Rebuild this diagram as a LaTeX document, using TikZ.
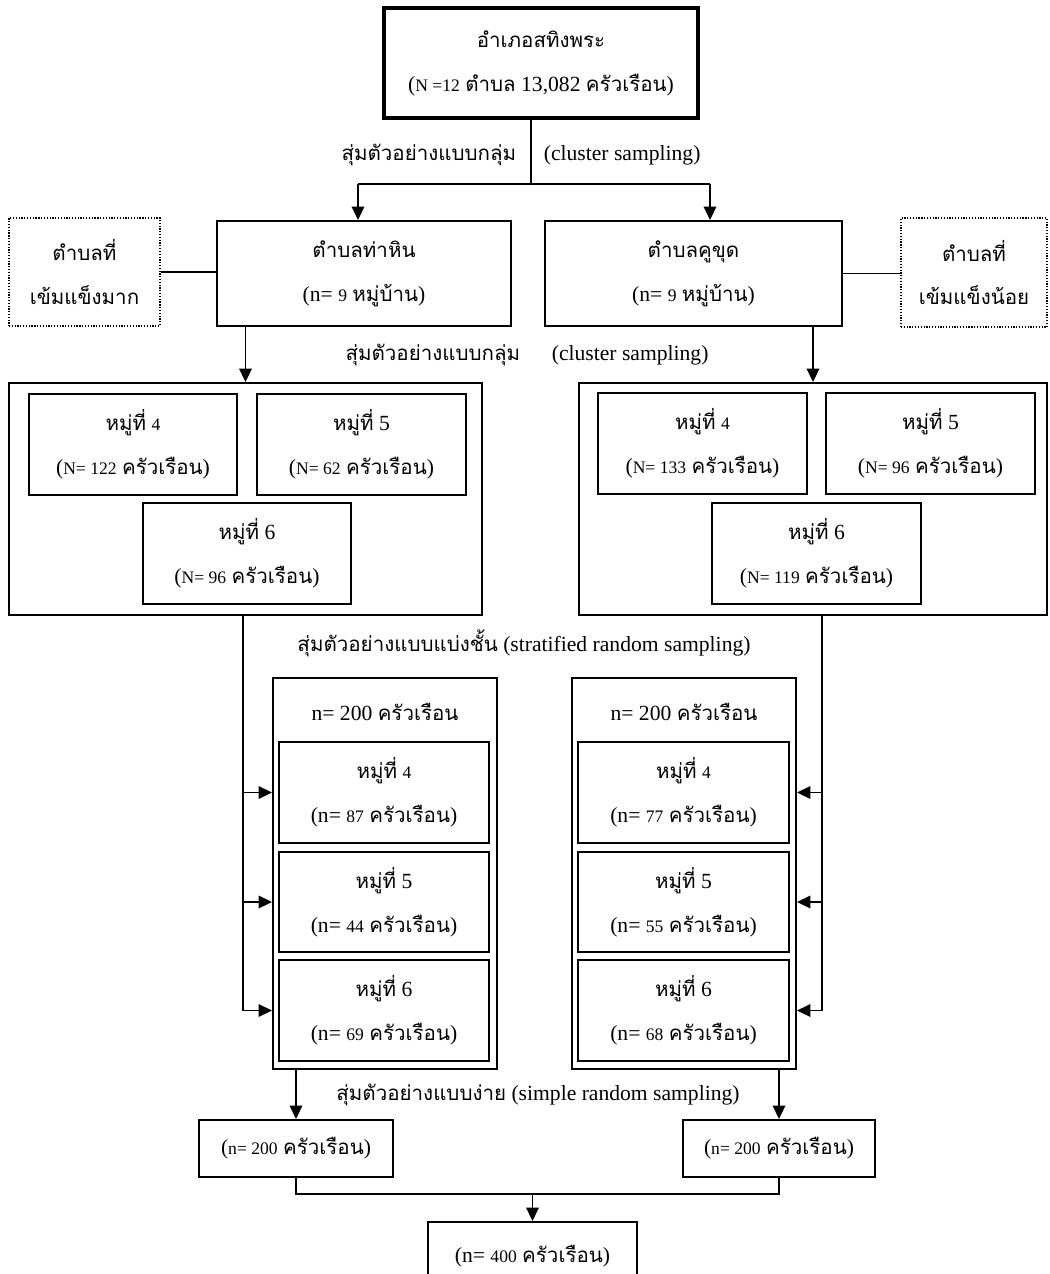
\documentclass[tikz,border=0pt]{standalone}
\usepackage{fontspec}
\setmainfont{Liberation Serif}
\newfontfamily\thaifont[Script=Thai,Scale=0.95]{Loma}
\usetikzlibrary{arrows.meta}
\newcommand{\thw}[1]{{\thaifont #1}}
\newcommand{\sm}[1]{{\fontsize{10}{12}\selectfont #1}}

\begin{document}
\begin{tikzpicture}[x=0.02cm, y=-0.02cm, line width=1.1pt,
        every node/.style={font=\fontsize{12.3}{25}\selectfont},
        bx/.style 2 args={draw, line width=1.1pt, inner sep=0pt, align=center,
            minimum width=#1*0.02cm, minimum height=#2*0.02cm},
        dotbox/.style 2 args={bx={#1}{#2}, line width=0.8pt, dash pattern=on 0.7pt off 0.9pt},
        arr/.style={-{Triangle[length=0.27cm, width=0.25cm]}}]
    \fill[white] (0,0) rectangle (1049,1274);
    \useasboundingbox (0,0) rectangle (1049,1274);

    % amphoe and the two tambon
    \node[bx={314}{110}, line width=2.4pt] (amphoe) at (541,63)
        {\thw{อำเภอสทิงพระ}\\(\sm{N =12} \thw{ตำบล} 13,082 \thw{ครัวเรือน})};
    \coordinate (split) at (531,184);
    \coordinate (brL) at (358,184);
    \coordinate (brR) at (710,184);
    \node[anchor=east] (lbl1a) at (523,155) {\thw{สุ่มตัวอย่างแบบกลุ่ม}};
    \node[anchor=west] (lbl1b) at (537,155) {(cluster sampling)};

    \node[bx={294}{105}] (tahin) at (364,273.5) {\thw{ตำบลท่าหิน}\\(n= \sm{9} \thw{หมู่บ้าน})};
    \node[bx={297}{105}] (khukhut) at (693.5,273.5) {\thw{ตำบลคูขุด}\\(n= \sm{9} \thw{หมู่บ้าน})};
    \node[dotbox={151}{108}] (strongL) at (84.5,272) {\thw{ตำบลที่}\\\thw{เข้มแข็งมาก}};
    \node[dotbox={146}{109}] (strongR) at (974,272.5) {\thw{ตำบลที่}\\\thw{เข้มแข็งน้อย}};

    \draw (amphoe.south -| split) -- (split);
    \draw (brL) -- (brR);
    \draw[arr] (brL) -- (brL |- tahin.north);
    \draw[arr] (brR) -- (brR |- khukhut.north);
    \draw (strongL.east) -- (strongL.east -| tahin.west);
    \draw (khukhut.east) -- (khukhut.east -| strongR.west);

    % villages
    \node[bx={473}{232}] (grpL) at (245.5,499) {};
    \node[bx={468}{232}] (grpR) at (813,499) {};
    \draw[arr] (tahin.south -| grpL.north) -- (grpL.north);
    \draw[arr] (khukhut.south -| grpR.north) -- (grpR.north);
    \node[anchor=east] (lbl2a) at (527,355) {\thw{สุ่มตัวอย่างแบบกลุ่ม}};
    \node[anchor=west] (lbl2b) at (545,355) {(cluster sampling)};

    \node[bx={208}{101}] (vL4) at (133,444.5) {\thw{หมู่ที่} \sm{4}\\(\sm{N= 122} \thw{ครัวเรือน})};
    \node[bx={209}{101}] (vL5) at (361.5,444.5) {\thw{หมู่ที่} 5\\(\sm{N= 62} \thw{ครัวเรือน})};
    \node[bx={208}{101}] (vL6) at (247,553.5) {\thw{หมู่ที่} 6\\(\sm{N= 96} \thw{ครัวเรือน})};
    \node[bx={209}{101}] (vR4) at (702.5,443.5) {\thw{หมู่ที่} \sm{4}\\(\sm{N= 133} \thw{ครัวเรือน})};
    \node[bx={209}{101}] (vR5) at (930.5,443.5) {\thw{หมู่ที่} 5\\(\sm{N= 96} \thw{ครัวเรือน})};
    \node[bx={209}{101}] (vR6) at (816.5,553.5) {\thw{หมู่ที่} 6\\(\sm{N= 119} \thw{ครัวเรือน})};

    % strata
    \node (lbl3) at (524,643) {\thw{สุ่มตัวอย่างแบบแบ่งชั้น} (stratified random sampling)};
    \node[bx={224}{391}] (outL) at (385,873.5) {};
    \node[bx={224}{391}] (outR) at (684,873.5) {};
    \node (hdrL) at (385,712) {n= 200 \thw{ครัวเรือน}};
    \node (hdrR) at (684,712) {n= 200 \thw{ครัวเรือน}};

    \node[bx={210}{101}] (sL4) at (384,792.5) {\thw{หมู่ที่} \sm{4}\\(n= \sm{87} \thw{ครัวเรือน})};
    \node[bx={210}{100}] (sL5) at (384,902) {\thw{หมู่ที่} 5\\(n= \sm{44} \thw{ครัวเรือน})};
    \node[bx={210}{101}] (sL6) at (384,1010.5) {\thw{หมู่ที่} 6\\(n= \sm{69} \thw{ครัวเรือน})};
    \node[bx={211}{101}] (sR4) at (683.5,792.5) {\thw{หมู่ที่} \sm{4}\\(n= \sm{77} \thw{ครัวเรือน})};
    \node[bx={211}{100}] (sR5) at (683.5,902) {\thw{หมู่ที่} 5\\(n= \sm{55} \thw{ครัวเรือน})};
    \node[bx={211}{101}] (sR6) at (683.5,1010.5) {\thw{หมู่ที่} 6\\(n= \sm{68} \thw{ครัวเรือน})};

    \coordinate (trunkL) at ([xshift=-0.05cm]grpL.south);
    \coordinate (trunkR) at ([xshift=0.18cm]grpR.south);
    \draw[arr] (trunkL) |- (outL.west |- sL6);
    \draw[arr] (trunkL |- sL4) -- (outL.west |- sL4);
    \draw[arr] (trunkL |- sL5) -- (outL.west |- sL5);
    \draw[arr] (trunkR) |- (outR.east |- sR6);
    \draw[arr] (trunkR |- sR4) -- (outR.east |- sR4);
    \draw[arr] (trunkR |- sR5) -- (outR.east |- sR5);

    % simple random sampling and total
    \node (lbl4) at (538,1095) {\thw{สุ่มตัวอย่างแบบง่าย} (simple random sampling)};
    \node[bx={194}{57}] (sumL) at (296,1148.5) {(\sm{n= 200} \thw{ครัวเรือน})};
    \node[bx={192}{57}] (sumR) at (779,1148.5) {(\sm{n= 200} \thw{ครัวเรือน})};
    \node[bx={209}{68}] (total) at (532.5,1256) {(n= \sm{400} \thw{ครัวเรือน})};
    \draw[arr] (outL.south -| sumL.north) -- (sumL.north);
    \draw[arr] (outR.south -| sumR.north) -- (sumR.north);
    \coordinate (merge) at (532.5,1194);
    \draw (sumL.south) |- (merge) -| (sumR.south);
    \draw[arr] (merge) -- (total.north);
\end{tikzpicture}
\end{document}
